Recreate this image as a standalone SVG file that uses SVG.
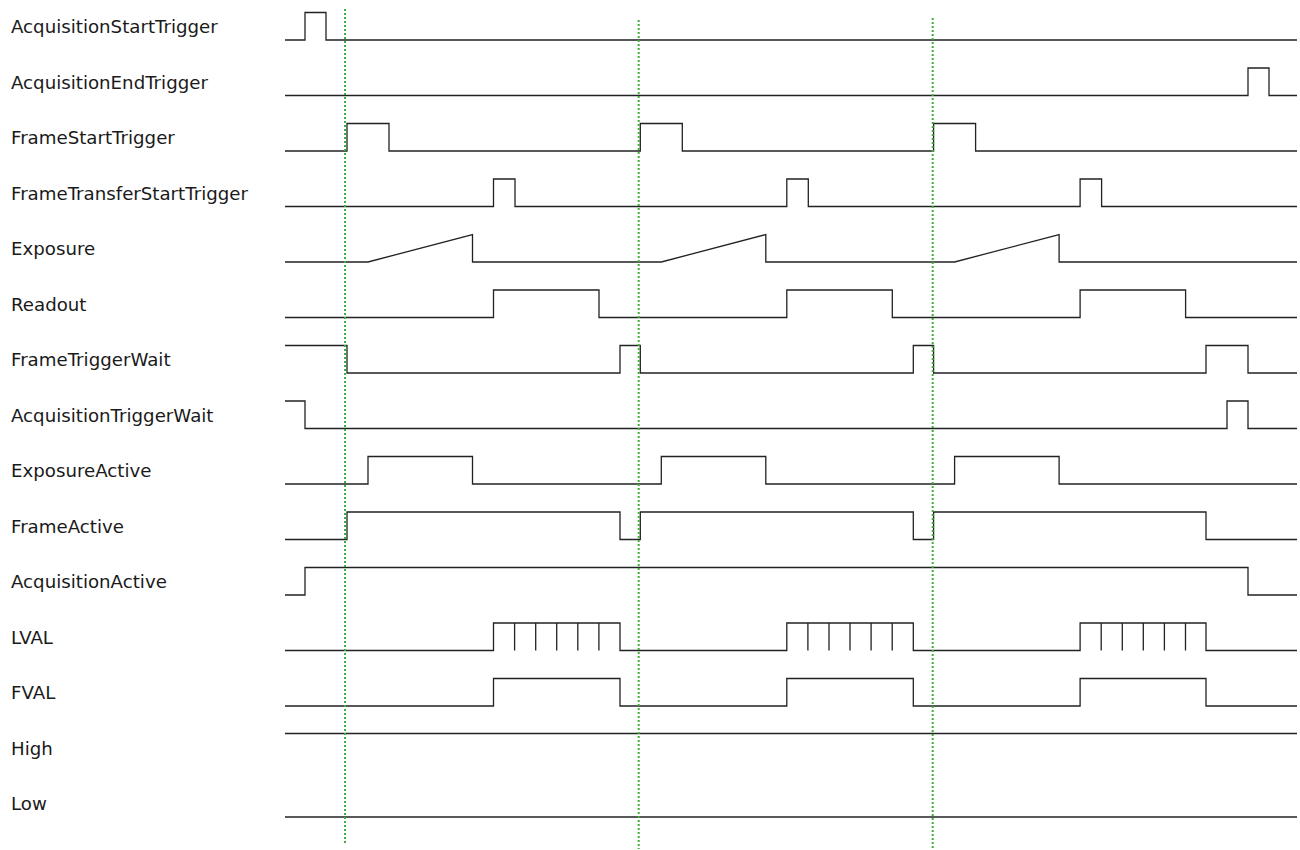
<svg xmlns="http://www.w3.org/2000/svg" width="1300" height="850" viewBox="0 0 1300 850">
<style>
.lbl{font-family:"DejaVu Sans","Liberation Sans",sans-serif;font-size:18.2px;fill:#1a1a1a}
.sig{fill:none;stroke:#222;stroke-width:1.3}
.grid{fill:none;stroke:#40ad40;stroke-width:2;stroke-dasharray:2,2}
</style>
<rect width="1300" height="850" fill="#fff"/>
<g id="labels">
<text class="lbl" x="11" y="33">AcquisitionStartTrigger</text>
<text class="lbl" x="11" y="88.5">AcquisitionEndTrigger</text>
<text class="lbl" x="11" y="144">FrameStartTrigger</text>
<text class="lbl" x="11" y="199.5">FrameTransferStartTrigger</text>
<text class="lbl" x="11" y="255">Exposure</text>
<text class="lbl" x="11" y="310.5">Readout</text>
<text class="lbl" x="11" y="366">FrameTriggerWait</text>
<text class="lbl" x="11" y="421.5">AcquisitionTriggerWait</text>
<text class="lbl" x="11" y="477">ExposureActive</text>
<text class="lbl" x="11" y="532.5">FrameActive</text>
<text class="lbl" x="11" y="588">AcquisitionActive</text>
<text class="lbl" x="11" y="643.5">LVAL</text>
<text class="lbl" x="11" y="699">FVAL</text>
<text class="lbl" x="11" y="754.5">High</text>
<text class="lbl" x="11" y="810">Low</text>
</g>
<g id="signals">
<path id="AcquisitionStartTrigger" class="sig" d="M285,40 H305 V12.5 H326 V40 H1297"/>
<path id="AcquisitionEndTrigger" class="sig" d="M285,95.5 H1248 V68 H1269 V95.5 H1297"/>
<path id="FrameStartTrigger" class="sig" d="M285,151 H347 V123.5 H389 V151 H640.3 V123.5 H682.3 V151 H933.6 V123.5 H975.6 V151 H1297"/>
<path id="FrameTransferStartTrigger" class="sig" d="M285,206.5 H493.5 V179 H515 V206.5 H786.8 V179 H808.3 V206.5 H1080.1 V179 H1101.6 V206.5 H1297"/>
<path id="Exposure" class="sig" d="M285,262 H368 L472.5,234.5 V262 H661.3 L765.8,234.5 V262 H954.6 L1059.1,234.5 V262 H1297"/>
<path id="Readout" class="sig" d="M285,317.5 H493.5 V290 H599 V317.5 H786.8 V290 H892.3 V317.5 H1080.1 V290 H1185.6 V317.5 H1297"/>
<path id="FrameTriggerWait" class="sig" d="M285,345.5 H347 V373 H620 V345.5 H640.3 V373 H913.3 V345.5 H933.6 V373 H1206 V345.5 H1248 V373 H1297"/>
<path id="AcquisitionTriggerWait" class="sig" d="M285,401 H305 V428.5 H1227 V401 H1248 V428.5 H1297"/>
<path id="ExposureActive" class="sig" d="M285,484 H368 V456.5 H472.5 V484 H661.3 V456.5 H765.8 V484 H954.6 V456.5 H1059.1 V484 H1297"/>
<path id="FrameActive" class="sig" d="M285,539.5 H347 V512 H620 V539.5 H640.3 V512 H913.3 V539.5 H933.6 V512 H1206 V539.5 H1297"/>
<path id="AcquisitionActive" class="sig" d="M285,595 H305 V567.5 H1248 V595 H1297"/>
<path id="LVAL" class="sig" d="M285,650.5 H493.5 V623 H620 V650.5 H786.8 V623 H913.3 V650.5 H1080.1 V623 H1206 V650.5 H1297 M514.6,623 V650.5 M535.7,623 V650.5 M556.7,623 V650.5 M577.8,623 V650.5 M598.9,623 V650.5 M807.9,623 V650.5 M829,623 V650.5 M850,623 V650.5 M871.1,623 V650.5 M892.2,623 V650.5 M1101.2,623 V650.5 M1122.3,623 V650.5 M1143.3,623 V650.5 M1164.4,623 V650.5 M1185.5,623 V650.5"/>
<path id="FVAL" class="sig" d="M285,706 H493.5 V678.5 H620 V706 H786.8 V678.5 H913.3 V706 H1080.1 V678.5 H1206 V706 H1297"/>
<path id="High" class="sig" d="M285,733.5 H1297"/>
<path id="Low" class="sig" d="M285,817 H1297"/>
</g>
<g id="markers">
<line class="grid" x1="345" y1="9" x2="345" y2="845"/>
<line class="grid" x1="638.7" y1="20" x2="638.7" y2="849"/>
<line class="grid" x1="932.7" y1="18" x2="932.7" y2="849"/>
</g>
</svg>
